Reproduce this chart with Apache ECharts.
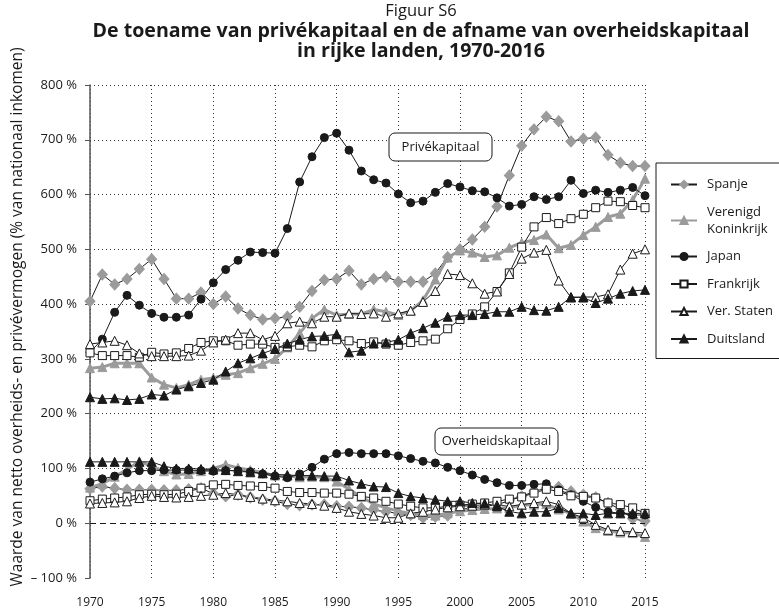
<!DOCTYPE html>
<html>
<head>
<meta charset="utf-8">
<script src="https://cdn.jsdelivr.net/npm/echarts@6/dist/echarts.min.js"></script>
<style>
  html, body { margin: 0; padding: 0; background: #fff; }
  #chart { width: 779px; height: 616px; }
</style>
</head>
<body>
<div id="chart"></div>
<script>
var years = [];
for (var y = 1970; y <= 2015; y++) years.push(y);

// privékapitaal (% van nationaal inkomen)
var spanjePriv = [405, 454, 436, 446, 464, 482, 446, 410, 410, 421, 400, 414, 392, 380, 372, 374, 377, 395, 424, 444,
  446, 461, 436, 446, 450, 441, 441, 441, 456, 486, 500, 518, 541, 578, 635, 689, 719, 742, 734, 697,
  702, 704, 672, 658, 652, 652];
var ukPriv = [283, 285, 292, 292, 292, 266, 253, 247, 253, 262, 265, 271, 274, 283, 291, 300, 321, 347, 374, 390,
  380, 382, 382, 390, 386, 380, 388, 407, 445, 485, 498, 494, 486, 489, 503, 512, 517, 527, 502, 508,
  526, 541, 559, 565, 590, 629];
var japanPriv = [312, 336, 385, 416, 398, 383, 376, 376, 380, 409, 439, 463, 480, 495, 494, 493, 538, 623, 669, 704,
  712, 681, 643, 627, 621, 601, 585, 588, 604, 620, 614, 607, 605, 594, 579, 582, 596, 591, 596, 626,
  602, 608, 604, 608, 613, 598];
var frankrijkPriv = [311, 306, 306, 306, 303, 312, 309, 311, 319, 330, 333, 333, 325, 327, 327, 321, 322, 325, 322, 333,
  335, 333, 328, 331, 327, 325, 330, 333, 336, 355, 372, 382, 395, 423, 457, 504, 541, 558, 547, 556,
  564, 576, 588, 587, 580, 576];
var vsPriv = [327, 330, 333, 325, 310, 305, 305, 305, 306, 315, 330, 335, 347, 347, 335, 342, 365, 368, 365, 377,
  377, 383, 382, 383, 377, 383, 388, 404, 424, 455, 453, 438, 419, 423, 455, 483, 494, 499, 443, 412,
  413, 413, 418, 463, 492, 500];
var duitslandPriv = [230, 227, 228, 225, 227, 235, 233, 244, 250, 256, 262, 277, 292, 301, 310, 318, 328, 335, 341, 342,
  345, 312, 315, 328, 330, 335, 347, 356, 366, 377, 380, 380, 382, 386, 386, 395, 389, 388, 395, 413,
  412, 402, 410, 419, 424, 426];

// overheidskapitaal (% van nationaal inkomen)
var spanjePub = [63, 67, 64, 61, 61, 61, 60, 60, 62, 64, 54, 49, 52, 47, 43, 40, 35, 33, 34, 34,
  31, 30, 28, 24, 21, 18, 15, 10, 12, 14, 25, 28, 31, 34, 41, 49, 58, 64, 66, 58,
  52, 47, 37, 25, 8, 4];
var ukPub = [65, 72, 85, 98, 113, 104, 95, 89, 90, 95, 100, 107, 101, 97, 92, 87, 86, 84, 85, 84,
  76, 62, 48, 35, 28, 22, 18, 15, 14, 18, 22, 24, 26, 27, 28, 33, 34, 35, 25, 18,
  3, -9, -14, -17, -18, -25];
var japanPub = [75, 81, 86, 92, 96, 96, 97, 97, 97, 96, 95, 96, 96, 94, 90, 86, 83, 90, 102, 117,
  127, 129, 127, 127, 127, 123, 118, 113, 110, 102, 96, 88, 80, 74, 69, 69, 71, 72, 61, 52,
  40, 29, 21, 18, 15, 15];
var frankrijkPub = [41, 44, 46, 48, 52, 53, 52, 53, 58, 64, 70, 71, 69, 68, 67, 64, 58, 56, 56, 55,
  55, 53, 49, 46, 40, 35, 31, 28, 28, 31, 33, 35, 37, 40, 44, 48, 55, 62, 58, 50,
  49, 46, 37, 34, 28, 18];
var vsPub = [36, 37, 38, 40, 46, 50, 48, 47, 48, 50, 52, 55, 52, 48, 45, 42, 40, 37, 35, 32,
  28, 21, 17, 14, 10, 10, 18, 21, 25, 29, 31, 32, 34, 33, 31, 34, 37, 40, 34, 18,
  10, -3, -12, -14, -16, -18];
var duitslandPub = [112, 112, 112, 112, 112, 112, 104, 100, 100, 99, 98, 97, 95, 93, 91, 89, 88, 87, 87, 86,
  86, 78, 72, 67, 66, 55, 49, 46, 43, 40, 40, 37, 36, 31, 21, 18, 21, 21, 28, 18,
  18, 15, 18, 18, 18, 18];

var countryNames = ['Spanje', 'Verenigd\nKoninkrijk', 'Japan', 'Frankrijk', 'Ver. Staten', 'Duitsland'];
var yTicks = [-100, 0, 100, 200, 300, 400, 500, 600, 700, 800];

var FONT = '"Open Sans", "Noto Sans", sans-serif';
var INK = '#1a1a1a';
var GREY = '#9b9b9b';

function pairs(arr) {
  return years.map(function (yr, i) { return [yr, arr[i]]; });
}

// stijl per land
var styles = [
  { symbol: 'diamond', size: [10, 11], line: INK, lw: 1, fill: GREY, border: GREY },
  { symbol: 'triangle', size: 9, line: GREY, lw: 3, fill: GREY, border: GREY },
  { symbol: 'circle', size: 8, line: INK, lw: 1, fill: INK, border: INK },
  { symbol: 'rect', size: 8, line: INK, lw: 1, fill: '#fff', border: INK },
  { symbol: 'triangle', size: 9, line: INK, lw: 1, fill: '#fff', border: INK },
  { symbol: 'triangle', size: 9, line: INK, lw: 1, fill: INK, border: INK }
];

var privData = [spanjePriv, ukPriv, japanPriv, frankrijkPriv, vsPriv, duitslandPriv];
var pubData = [spanjePub, ukPub, japanPub, frankrijkPub, vsPub, duitslandPub];

function makeSeries(name, data, st) {
  return {
    name: name,
    type: 'line',
    data: pairs(data),
    symbol: st.symbol,
    symbolSize: st.size,
    showSymbol: true,
    showAllSymbol: true,
    lineStyle: { color: st.line, width: st.lw },
    itemStyle: { color: st.fill, borderColor: st.border, borderWidth: 1, opacity: 1 },
    emphasis: { disabled: true }
  };
}

var series = [];
privData.forEach(function (d, i) { series.push(makeSeries(countryNames[i], d, styles[i])); });
pubData.forEach(function (d, i) { series.push(makeSeries(countryNames[i], d, styles[i])); });

// nul-lijn
series[0].markLine = {
  silent: true,
  symbol: 'none',
  label: { show: false },
  lineStyle: { color: INK, type: [6, 4], width: 1 },
  data: [{ yAxis: 0 }]
};

var chart = echarts.init(document.getElementById('chart'));
chart.setOption({
  animation: false,
  backgroundColor: '#fff',
  grid: { left: 90, right: 134, top: 85, bottom: 38 },
  xAxis: {
    type: 'value',
    min: 1970,
    max: 2015,
    interval: 5,
    axisLine: { show: false },
    axisTick: { show: false },
    axisLabel: {
      color: INK, fontFamily: FONT, fontSize: 12, margin: 19,
      formatter: function (v) { return String(v); }
    },
    splitLine: { show: true, lineStyle: { color: '#333', width: 1, type: [1, 3] } }
  },
  yAxis: {
    type: 'value',
    min: yTicks[0],
    max: yTicks[yTicks.length - 1],
    interval: 100,
    axisLine: { show: true, lineStyle: { color: '#555', width: 1.5 } },
    axisTick: { show: true, length: 5, lineStyle: { color: '#555' } },
    axisLabel: {
      color: INK, fontFamily: FONT, fontSize: 13, margin: 13,
      formatter: function (v) { return v < 0 ? '\u2013 ' + Math.abs(v) + ' %' : v + ' %'; }
    },
    splitLine: {
      show: true,
      lineStyle: { color: ['rgba(0,0,0,0)', 'rgba(0,0,0,0)', '#333', '#333', '#333', '#333', '#333', '#333', '#333', '#333'], width: 1, type: [1, 3] }
    }
  },
  legend: {
    orient: 'vertical',
    left: 656,
    top: 163,
    data: countryNames,
    itemWidth: 26,
    itemHeight: 9,
    itemGap: 10.5,
    borderColor: INK,
    borderWidth: 1,
    padding: [13, 40, 11, 14],
    textStyle: { color: INK, fontFamily: FONT, fontSize: 13, lineHeight: 17, padding: [0, 0, 0, 5] },
    selectedMode: false
  },
  graphic: [
    { type: 'text', x: 421, y: 11, style: { text: 'Figuur S6', font: '16.5px ' + FONT, fill: INK, align: 'center', verticalAlign: 'middle' } },
    { type: 'text', x: 421, y: 31, style: { text: 'De toename van privékapitaal en de afname van overheidskapitaal', font: 'bold 19.6px ' + FONT, fill: INK, align: 'center', verticalAlign: 'middle' } },
    { type: 'text', x: 421, y: 51, style: { text: 'in rijke landen, 1970-2016', font: 'bold 19.6px ' + FONT, fill: INK, align: 'center', verticalAlign: 'middle' } },
    { type: 'text', x: 18, y: 317, rotation: Math.PI / 2, style: { text: 'Waarde van netto overheids- en privévermogen (% van nationaal inkomen)', font: '15.5px ' + FONT, fill: INK, align: 'center', verticalAlign: 'middle' } },
    { type: 'rect', shape: { x: 389, y: 133, width: 103, height: 28, r: 6 }, style: { fill: '#fff', stroke: INK, lineWidth: 1 }, z: 10 },
    { type: 'text', x: 440.5, y: 147, style: { text: 'Privékapitaal', font: '13px ' + FONT, fill: INK, align: 'center', verticalAlign: 'middle' }, z: 11 },
    { type: 'rect', shape: { x: 435, y: 428, width: 123, height: 27, r: 6 }, style: { fill: '#fff', stroke: INK, lineWidth: 1 }, z: 10 },
    { type: 'text', x: 496.5, y: 441.5, style: { text: 'Overheidskapitaal', font: '13px ' + FONT, fill: INK, align: 'center', verticalAlign: 'middle' }, z: 11 }
  ],
  series: series
});
</script>
</body>
</html>
